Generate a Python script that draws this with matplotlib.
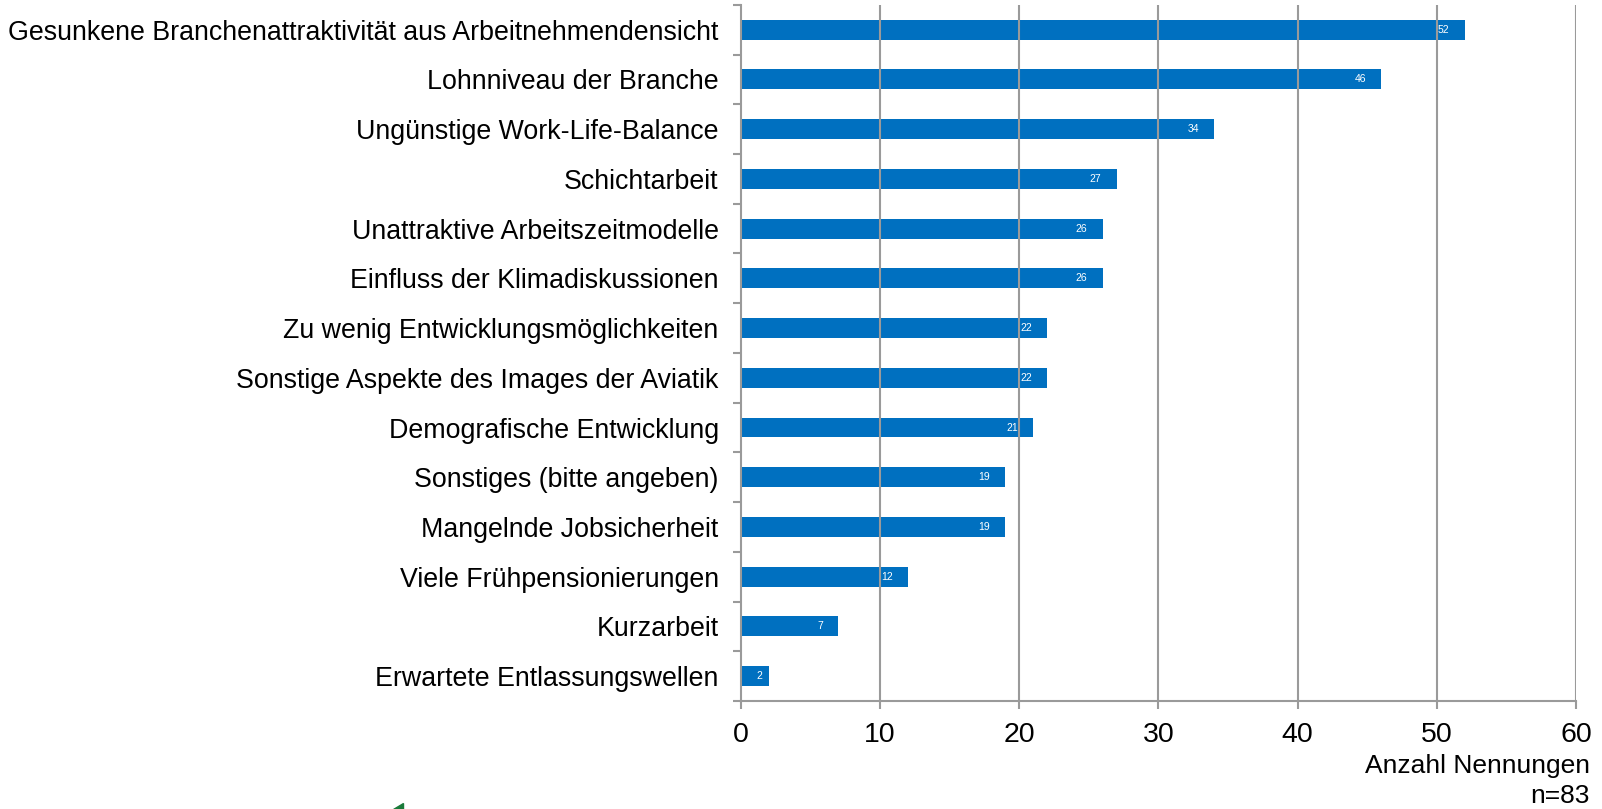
import matplotlib
matplotlib.use("Agg")
import matplotlib.pyplot as plt
from matplotlib.patches import Polygon

# ---------------------------
# Data
# ---------------------------
categories = [
    "Gesunkene Branchenattraktivität aus Arbeitnehmendensicht",
    "Lohnniveau der Branche",
    "Ungünstige Work-Life-Balance",
    "Schichtarbeit",
    "Unattraktive Arbeitszeitmodelle",
    "Einfluss der Klimadiskussionen",
    "Zu wenig Entwicklungsmöglichkeiten",
    "Sonstige Aspekte des Images der Aviatik",
    "Demografische Entwicklung",
    "Sonstiges (bitte angeben)",
    "Mangelnde Jobsicherheit",
    "Viele Frühpensionierungen",
    "Kurzarbeit",
    "Erwartete Entlassungswellen",
]
counts = [52, 46, 34, 27, 26, 26, 22, 22, 21, 19, 19, 12, 7, 2]
x_ticks = [0, 10, 20, 30, 40, 50, 60]

BAR_COLOR = "#0070C0"
GRID_COLOR = "#9a9a9a"

plt.rcParams["font.family"] = ["Liberation Sans", "DejaVu Sans"]

fig = plt.figure(figsize=(16.02, 8.09), dpi=100)
ax = fig.add_axes([0.4625, 0.1335, 0.5213, 0.8605])

n = len(categories)
ypos = list(range(n))
ax.barh(ypos, counts, height=0.4, color=BAR_COLOR, zorder=2)

# value labels inside bar ends (short bars get less padding)
for y, v in zip(ypos, counts):
    xr = v - 1.1 if v >= 5 else v - 0.45
    ax.text(xr, y, str(v), ha="right", va="center",
            color="white", fontsize=7.5, zorder=4)

ax.set_xlim(0, 60)
ax.set_ylim(n - 0.5, -0.5)

# vertical grid above bars
for xv in x_ticks[1:]:
    ax.axvline(xv, color=GRID_COLOR, lw=1.5, zorder=3)

ax.set_xticks(x_ticks)
ax.set_xticklabels([str(v) for v in x_ticks], fontsize=20.5)
ax.tick_params(axis="x", length=6, width=1.5, color=GRID_COLOR, pad=9)

# boundaries as major ticks, category names as minor tick labels
ax.set_yticks([i - 0.5 for i in range(n + 1)])
ax.set_yticklabels([])
ax.tick_params(axis="y", which="major", length=6, width=1.5, color=GRID_COLOR)
ax.set_yticks(ypos, minor=True)
ax.set_yticklabels(categories, minor=True, fontsize=19.3)
ax.tick_params(axis="y", which="minor", length=0, pad=16)

for side in ["top", "right"]:
    ax.spines[side].set_visible(False)
for side in ["left", "bottom"]:
    ax.spines[side].set_color(GRID_COLOR)
    ax.spines[side].set_linewidth(1.5)

fig.text(0.9925, 0.053, "Anzahl Nennungen", ha="right", va="center", fontsize=19)
fig.text(0.9925, 0.016, "n=83", ha="right", va="center", fontsize=19)

# small green mark at bottom edge
fig.patches.append(Polygon([[393 / 1602, 0.0], [403 / 1602, 0.0], [403 / 1602, 6 / 809]],
                           closed=True, transform=fig.transFigure,
                           color="#1a7a3a", zorder=5))

fig.savefig("out.png", dpi=100)
